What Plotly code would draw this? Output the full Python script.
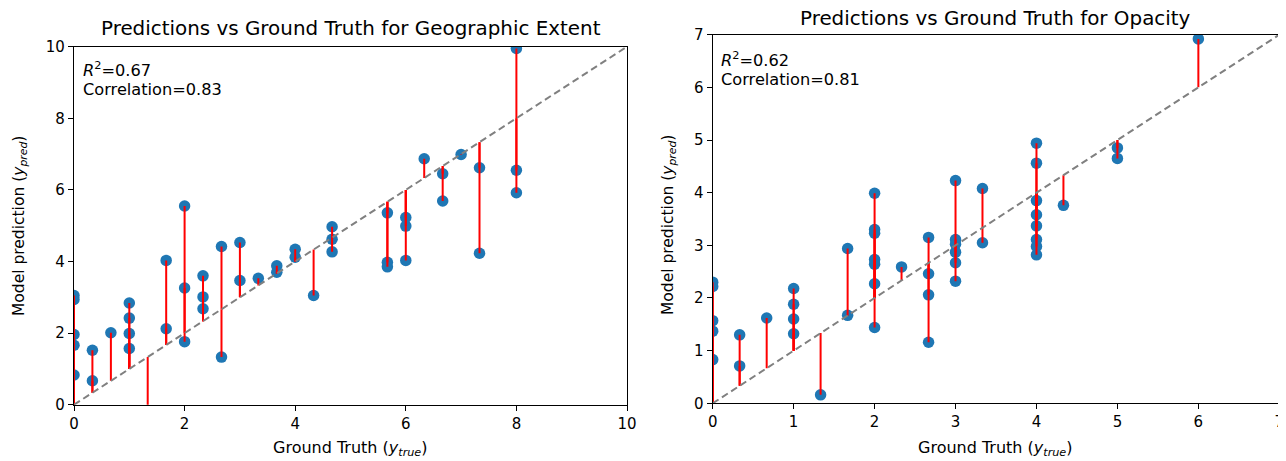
import plotly.graph_objects as go

# ---------------- data ----------------
# Geographic Extent
geo_true = [0, 0, 0, 0, 0,
            0.333, 0.333,
            0.667,
            1, 1, 1, 1,
            1.333,
            1.667, 1.667,
            2, 2, 2,
            2.333, 2.333, 2.333,
            2.667, 2.667,
            3, 3,
            3.333,
            3.667, 3.667,
            4, 4,
            4.333,
            4.667, 4.667, 4.667,
            5.667, 5.667, 5.667,
            6, 6, 6,
            6.333,
            6.667, 6.667,
            7,
            7.333, 7.333,
            8, 8, 8]
geo_pred = [3.05, 2.94, 1.96, 1.66, 0.83,
            1.52, 0.67,
            2.01,
            2.84, 2.42, 1.99, 1.57,
            -0.4,
            4.03, 2.12,
            5.55, 3.26, 1.76,
            3.60, 3.01, 2.68,
            4.42, 1.33,
            4.53, 3.47,
            3.53,
            3.88, 3.70,
            4.34, 4.12,
            3.05,
            4.97, 4.62, 4.27,
            5.36, 3.98, 3.85,
            5.23, 4.99, 4.03,
            6.87,
            6.45, 5.69,
            6.99,
            6.62, 4.23,
            9.95, 6.55, 5.92]

# Opacity
opa_true = [0, 0, 0, 0, 0,
            0.333, 0.333,
            0.667,
            1, 1, 1, 1,
            1.333,
            1.667, 1.667,
            2, 2, 2, 2, 2, 2, 2,
            2.333,
            2.667, 2.667, 2.667, 2.667,
            3, 3, 3, 3, 3, 3,
            3.333, 3.333,
            4, 4, 4, 4, 4, 4, 4, 4,
            4.333,
            5, 5,
            6]
opa_pred = [2.30, 2.22, 1.57, 1.37, 0.83,
            1.30, 0.71,
            1.62,
            2.18, 1.88, 1.60, 1.32,
            0.16,
            2.94, 1.67,
            3.99, 3.30, 3.23, 2.73, 2.64, 2.27, 1.44,
            2.59,
            3.15, 2.46, 2.06, 1.16,
            4.23, 3.11, 3.02, 2.87, 2.67, 2.32,
            4.08, 3.05,
            4.94, 4.56, 3.85, 3.58, 3.37, 3.11, 2.98, 2.82,
            3.76,
            4.85, 4.65,
            6.92]

geo_range = [0, 10]
opa_range = [0, 7]
geo_ticks = [0, 2, 4, 6, 8, 10]
opa_ticks = [0, 1, 2, 3, 4, 5, 6, 7]

titles = ["Predictions vs Ground Truth for Geographic Extent",
          "Predictions vs Ground Truth for Opacity"]
stats = [("0.67", "0.83"), ("0.62", "0.81")]

# ---------------- figure ----------------
# The page body has an 8px margin; the figure starts 8px in from the corner
OFF = 8
W, H = 1286 - OFF, 461 - OFF
FONT = "DejaVu Sans"
BLUE = "#1f77b4"


def px_x(p):
    return min(1.0, max(0.0, (p - OFF) / W))


def px_y(p):
    return min(1.0, max(0.0, 1 - (p - OFF) / H))


fig = go.Figure()


def add_panel(xt, yp, rng, xa, ya):
    # residual segments
    sx, sy = [], []
    for a, b in zip(xt, yp):
        sx += [a, a, None]
        sy += [a, b, None]
    fig.add_trace(go.Scatter(x=xt, y=yp, mode="markers", xaxis=xa, yaxis=ya,
                             marker=dict(color=BLUE, size=11.5, line=dict(width=0)),
                             showlegend=False, hoverinfo="skip"))
    fig.add_trace(go.Scatter(x=sx, y=sy, mode="lines", xaxis=xa, yaxis=ya,
                             line=dict(color="red", width=2),
                             showlegend=False, hoverinfo="skip"))
    fig.add_trace(go.Scatter(x=rng, y=rng, mode="lines", xaxis=xa, yaxis=ya,
                             line=dict(color="gray", width=2, dash="7px,4px"),
                             showlegend=False, hoverinfo="skip"))


add_panel(geo_true, geo_pred, geo_range, "x", "y")
add_panel(opa_true, opa_pred, opa_range, "x2", "y2")

axis_common = dict(showgrid=False, zeroline=False, showline=True, linecolor="black",
                   linewidth=1.3, mirror=True, ticks="outside", ticklen=5,
                   tickwidth=1.3, tickcolor="black", automargin=False,
                   tickfont=dict(family=FONT, size=15, color="black"))

fig.update_layout(
    width=W, height=H,
    margin=dict(l=0, r=0, t=0, b=0, pad=0, autoexpand=False),
    paper_bgcolor="white", plot_bgcolor="white",
    font=dict(family=FONT, color="black"),
    xaxis=dict(domain=[px_x(74), px_x(627)], range=geo_range, tickvals=geo_ticks,
               anchor="y", **axis_common),
    yaxis=dict(domain=[px_y(404.7), px_y(46.7)], range=geo_range, tickvals=geo_ticks,
               anchor="x", **axis_common),
    xaxis2=dict(domain=[px_x(712.7), px_x(1279.3)], range=opa_range, tickvals=opa_ticks,
                anchor="y2", **axis_common),
    yaxis2=dict(domain=[px_y(403.3), px_y(34.7)], range=opa_range, tickvals=opa_ticks,
                anchor="x2", **axis_common),
)

ann = []
# titles
ann.append(dict(text=titles[0], x=px_x(350.5), y=px_y(28.5), xanchor="center", yanchor="middle",
                font=dict(family=FONT, size=19.9, color="black")))
ann.append(dict(text=titles[1], x=px_x(996), y=px_y(18.5), xanchor="center", yanchor="middle",
                font=dict(family=FONT, size=19.9, color="black")))
# stats text
for (r2, corr), xl, y1, y2 in [(stats[0], 80.7, 68.5, 89), (stats[1], 719.3, 58.5, 79)]:
    ann.append(dict(text="<i>R</i><sup>2</sup>=" + r2, x=px_x(xl), y=px_y(y1),
                    xanchor="left", yanchor="middle",
                    font=dict(family=FONT, size=16.2, color="black")))
    ann.append(dict(text="Correlation=" + corr, x=px_x(xl), y=px_y(y2),
                    xanchor="left", yanchor="middle",
                    font=dict(family=FONT, size=16.2, color="black")))
# axis titles
xlab = "Ground Truth (<i>y</i><sub><i>true</i></sub>)"
ylab = "Model prediction (<i>y</i><sub><i>pred</i></sub>)"
ann.append(dict(text=xlab, x=px_x(350.5), y=px_y(448), xanchor="center", yanchor="middle",
                font=dict(family=FONT, size=16, color="black")))
ann.append(dict(text=xlab, x=px_x(996), y=px_y(448), xanchor="center", yanchor="middle",
                font=dict(family=FONT, size=16, color="black")))
ann.append(dict(text=ylab, x=px_x(20), y=px_y(226), xanchor="center", yanchor="middle",
                textangle=-90, font=dict(family=FONT, size=15.5, color="black")))
ann.append(dict(text=ylab, x=px_x(669), y=px_y(225), xanchor="center", yanchor="middle",
                textangle=-90, font=dict(family=FONT, size=15.5, color="black")))
for a in ann:
    a.update(xref="paper", yref="paper", showarrow=False)
fig.update_layout(annotations=ann)

fig.write_html("out.html")
